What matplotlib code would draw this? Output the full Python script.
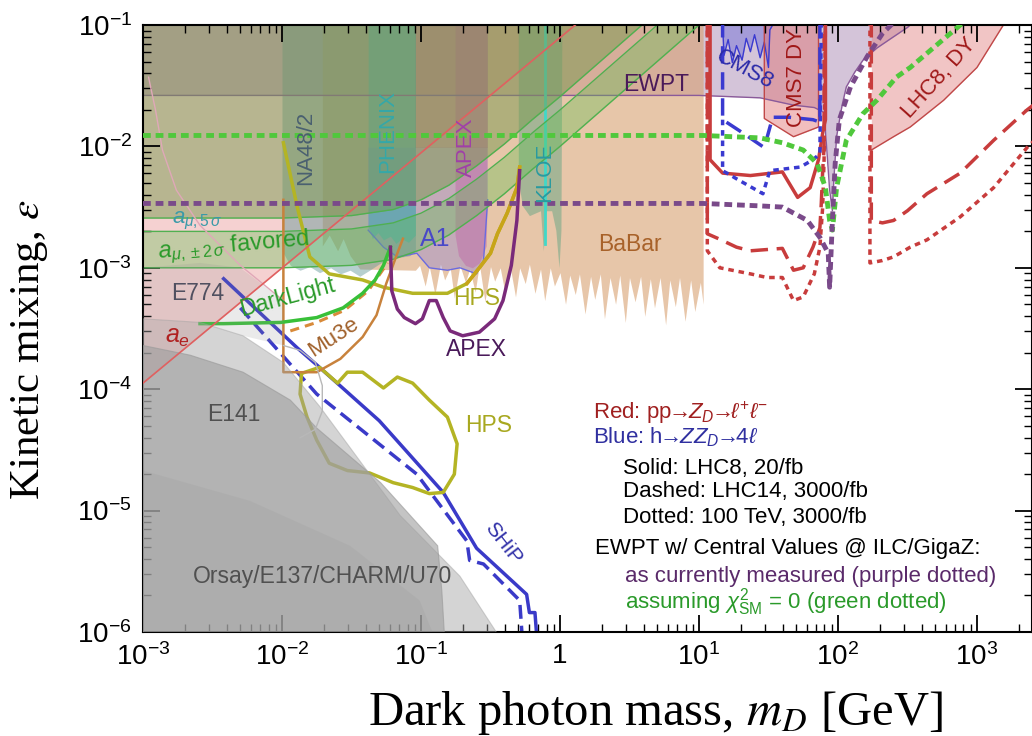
import numpy as np
import matplotlib
matplotlib.use("Agg")
import matplotlib.pyplot as plt
from matplotlib.ticker import FixedLocator, FuncFormatter, LogLocator, NullFormatter

plt.rcParams['font.family'] = ['Liberation Sans', 'DejaVu Sans']
plt.rcParams['mathtext.fontset'] = 'custom'
plt.rcParams['mathtext.rm'] = 'Liberation Sans'
plt.rcParams['mathtext.it'] = 'Liberation Sans:italic'
plt.rcParams['mathtext.bf'] = 'Liberation Sans:bold'
plt.rcParams['mathtext.sf'] = 'Liberation Sans'

# all curves are stored as log10(mass / GeV) and log10(epsilon)

# electron / muon g-2
AE_LM = [-3.0, 0.11]
AE_LE = [-3.95, -1.0]
AMU_LM = [-3.0, -2.0, -1.5, -1.2, -1.0, -0.8, -0.6, -0.4, -0.2, 0.0, 0.2, 0.4, 0.6, 0.8, 1.0]
AMU_LO = [-3.0, -3.0, -2.98, -2.93, -2.85, -2.73, -2.57, -2.39, -2.19, -2.0, -1.80, -1.60, -1.40, -1.20, -1.0]
AMU_HI = [-2.70, -2.70, -2.68, -2.63, -2.55, -2.43, -2.27, -2.09, -1.89, -1.70, -1.50, -1.30, -1.10, -0.90, -0.70]
AMU_5S = [-2.59, -2.59, -2.57, -2.52, -2.44, -2.32, -2.16, -1.98, -1.78, -1.59, -1.39, -1.19, -0.99, -0.79, -0.59]

# electroweak precision (current)
EW_LM = [-3.0, 1.0, 1.44, 1.68, 1.83, 1.90, 1.92, 1.94, 1.96, 1.97, 1.99, 2.03, 2.06, 2.12, 2.18, 2.28, 2.37, 2.50, 2.56]
EW_LE = [-1.58, -1.58, -1.60, -1.66, -1.68, -1.72, -2.03, -2.36, -2.53, -2.28, -1.92, -1.66, -1.51, -1.39, -1.29, -1.19, -1.12, -1.02, -0.96]

# beam dumps
DUMP1_LM = [-3.0, -2.59, -2.28, -1.99, -1.73, -1.15, -0.72, -0.43, -3.0]
DUMP1_LE = [-3.42, -3.45, -3.56, -3.78, -4.14, -5.04, -5.54, -6.05, -6.05]
DUMP2_LM = [-3.0, -2.66, -2.28, -1.94, -1.75, -1.29, -0.88, -0.85, -0.83, -3.0]
DUMP2_LE = [-3.64, -3.72, -3.86, -4.09, -4.32, -4.77, -5.29, -5.66, -6.05, -6.05]
DUMP3_LM = [-3.0, -2.23, -1.51, -1.01, -0.90, -3.0]
DUMP3_LE = [-4.67, -4.92, -5.29, -5.74, -6.05, -6.05]
E141_LM = [-1.99, -1.87, -1.76, -1.71, -1.71, -1.76, -1.87]
E141_LE = [-3.64, -3.68, -3.78, -3.97, -4.18, -4.33, -4.40]
E774_LM = [-3.0, -2.59, -2.30, -1.99, -1.99, -2.28, -2.59, -3.0]
E774_LE = [-3.0, -2.96, -3.0, -3.27, -3.64, -3.56, -3.45, -3.42]
E774C_LM = [-2.96, -2.91, -2.86, -2.76, -2.59, -2.30, -1.99]
E774C_LE = [-1.43, -1.70, -2.03, -2.36, -2.65, -2.98, -3.27]

# fixed target / meson decays / B factory
NA48_LM = [-2.0, -1.94, -1.87, -1.80, -1.73, -1.65, -1.58, -1.51, -1.44, -1.37, -1.29, -1.19, -1.08, -1.04]
NA48_LE = [-2.86, -2.98, -3.02, -2.99, -3.04, -3.00, -3.05, -3.02, -3.07, -3.02, -2.96, -2.92, -2.90, -2.86]
BB_LM = [-1.71, -1.66, -1.60, -1.56, -1.51, -1.44, -1.04,
         -1.01, -0.97, -0.94, -0.90, -0.86, -0.83, -0.79, -0.76, -0.72, -0.68,
         -0.65, -0.61, -0.58, -0.54, -0.50, -0.47, -0.43, -0.40, -0.36, -0.32,
         -0.29, -0.25, -0.22, -0.18, -0.14, -0.11, -0.07, -0.04, 0.00, 0.04,
         0.07, 0.11, 0.14, 0.18, 0.22, 0.25, 0.29, 0.32, 0.36, 0.40,
         0.43, 0.47, 0.50, 0.54, 0.58, 0.61, 0.65, 0.68, 0.72, 0.76,
         0.79, 0.83, 0.86, 0.90, 0.94, 0.97, 1.01, 1.03]
BB_LE = [-2.82, -2.73, -2.86, -2.76, -2.90, -3.01, -3.02,
         -2.98, -3.15, -2.99, -3.22, -2.97, -3.10, -3.00, -3.25, -2.98, -3.12,
         -3.01, -3.20, -2.97, -3.28, -2.99, -3.11, -3.00, -3.18, -2.98, -3.24,
         -3.00, -3.13, -2.97, -3.21, -3.01, -3.27, -3.00, -3.15, -3.04, -3.30,
         -3.06, -3.22, -3.05, -3.38, -3.07, -3.26, -3.05, -3.42, -3.08, -3.30,
         -3.06, -3.45, -3.08, -3.28, -3.07, -3.40, -3.09, -3.33, -3.08, -3.47,
         -3.10, -3.32, -3.08, -3.44, -3.10, -3.36, -3.12, -3.30]
PHX_LM = [-1.38, -1.35, -1.31, -1.27, -1.22, -1.18, -1.14, -1.09, -1.04]
PHX_LE = [-2.65, -2.76, -2.71, -2.77, -2.74, -2.80, -2.76, -2.79, -2.73]
A1_LM = [-1.38, -1.38, -1.27, -1.17, -1.03, -0.94, -0.81, -0.72, -0.60, -0.55, -0.52, -0.52]
A1_LE = [-2.01, -2.69, -2.83, -2.91, -2.88, -3.00, -3.02, -3.00, -3.05, -2.94, -2.44, -2.01]
MAUVE_LM = [-1.04, -0.52]
MAUVE_LE = [-2.01, -2.01]
APEX_LM = [-0.755, -0.755, -0.73, -0.68, -0.63, -0.58, -0.53, -0.525]
APEX_LE = [-2.2, -2.73, -2.90, -2.98, -3.00, -2.96, -2.82, -2.44]
KLOE_LM = [-0.30, -0.27, -0.22, -0.14, -0.12, -0.10, -0.06, -0.03, -0.007, 0.007, 0.014]
KLOE_LE = [-2.28, -2.49, -2.57, -2.53, -2.86, -2.53, -2.53, -2.69, -3.00, -2.69, -1.0]

# future low-mass reach
DL_LM = [-2.59, -2.42, -2.01, -1.75, -1.56, -1.42, -1.33, -1.27, -1.22]
DL_LE = [-3.46, -3.46, -3.45, -3.41, -3.33, -3.21, -3.10, -2.98, -2.83]
DLD_LM = [-1.94, -1.75, -1.55, -1.38, -1.24]
DLD_LE = [-3.52, -3.45, -3.35, -3.19, -2.96]
MU3E_LM = [-1.99, -1.99, -1.75, -1.58, -1.42, -1.32, -1.25, -1.17, -1.13]
MU3E_LE = [-2.44, -3.86, -3.86, -3.75, -3.57, -3.39, -3.13, -2.88, -2.76]
HPS_LM = [-1.99, -1.89, -1.80, -1.66, -1.42, -1.27, -1.06, -0.81, -0.67, -0.58, -0.50, -0.45, -0.38, -0.31, -0.29]
HPS_LE = [-1.97, -2.50, -2.91, -3.05, -3.10, -3.16, -3.21, -3.21, -3.13, -3.00, -2.88, -2.72, -2.55, -2.34, -2.17]
HPS2_LM = [-1.86, -1.73, -1.60, -1.53, -1.42, -1.27, -1.17, -1.06, -0.94, -0.81, -0.74, -0.76, -0.84,
           -0.94, -1.06, -1.20, -1.37, -1.53, -1.66, -1.75, -1.82, -1.87, -1.86]
HPS2_LE = [-3.87, -3.82, -3.95, -3.86, -3.86, -3.99, -3.90, -3.95, -4.09, -4.23, -4.45, -4.70, -4.85,
           -4.86, -4.81, -4.77, -4.69, -4.67, -4.61, -4.42, -4.23, -4.04, -3.87]
APF_LM = [-1.22, -1.21, -1.17, -1.12, -1.04, -0.99, -0.94, -0.89, -0.84, -0.79, -0.70, -0.58, -0.47, -0.41, -0.35, -0.31, -0.29]
APF_LE = [-2.83, -3.19, -3.34, -3.41, -3.46, -3.42, -3.27, -3.27, -3.41, -3.52, -3.56, -3.53, -3.42, -3.27, -2.98, -2.61, -2.20]
SHIP_LM = [-2.42, -1.89, -1.73, -1.30, -0.84, -0.60, -0.24, -0.22, -0.18, -0.165]
SHIP_LE = [-3.09, -3.66, -3.82, -4.26, -4.85, -5.31, -5.69, -5.84, -5.84, -6.07]
SHIPD_LM = [-2.30, -1.75, -1.03, -0.67, -0.65, -0.55, -0.29, -0.27]
SHIPD_LE = [-3.33, -4.04, -4.70, -5.25, -5.41, -5.44, -5.74, -6.07]

# LHC region
CMS8_LM = [1.17, 1.18, 1.21, 1.24, 1.27, 1.31, 1.34, 1.37, 1.40, 1.44, 1.47, 1.50, 1.51, 1.53]
CMS8_LE = [-1.0, -1.25, -1.12, -1.31, -1.17, -1.29, -1.11, -1.22, -1.08, -1.27, -1.14, -1.35, -1.04, -1.0]
CMS7_LM = [1.47, 1.68, 1.86]
CMS7_LE = [-1.77, -1.92, -1.84]
LHC8DY_LM = [2.24, 2.40, 2.52, 2.76, 3.00, 3.19, 3.45]
LHC8DY_LE = [-2.03, -1.92, -1.84, -1.62, -1.35, -1.0, -0.6]
RS_LM = [1.08, 1.08, 1.17, 1.37, 1.60, 1.71, 1.80, 1.86, 1.89, 1.91, 1.91]
RS_LE = [-0.96, -2.11, -2.22, -2.24, -2.21, -2.42, -2.34, -2.11, -1.89, -1.78, -0.96]
RD_LM = [1.06, 1.06, 1.14, 1.27, 1.37, 1.60, 1.68, 1.75, 1.82, 1.87, 1.88, 1.89, 1.90, 1.90]
RD_LE = [-0.96, -2.72, -2.76, -2.83, -2.86, -2.84, -3.02, -3.00, -2.83, -2.67, -2.47, -2.20, -2.01, -0.96]
RD2_LM = [2.24, 2.24, 2.32, 2.40, 2.50, 2.64, 2.88, 3.12, 3.36, 3.45]
RD2_LE = [-0.96, -2.61, -2.63, -2.61, -2.53, -2.39, -2.22, -1.95, -1.70, -1.62]
RT_LM = [1.06, 1.06, 1.15, 1.37, 1.49, 1.60, 1.68, 1.75, 1.83, 1.87, 1.89, 1.90, 1.91]
RT_LE = [-0.96, -2.86, -3.00, -3.05, -3.08, -3.08, -3.27, -3.24, -3.05, -2.83, -2.50, -2.11, -0.96]
RT2_LM = [2.23, 2.23, 2.32, 2.40, 2.52, 2.64, 2.88, 3.12, 3.36, 3.45]
RT2_LE = [-0.96, -2.96, -2.94, -2.91, -2.83, -2.77, -2.58, -2.34, -2.01, -1.91]
BD_LM = [1.17, 1.17, 1.29, 1.47, 1.53, 1.65, 1.82, 1.87, 1.87]
BD_LE = [-0.96, -1.78, -1.87, -2.01, -1.76, -1.76, -1.78, -1.80, -0.96]
BT_LM = [1.17, 1.17, 1.29, 1.46, 1.51, 1.73, 1.82, 1.87, 1.88]
BT_LE = [-1.78, -2.20, -2.28, -2.39, -2.20, -2.17, -2.11, -2.06, -0.96]

# EWPT with ILC/GigaZ central values
GD_LM = [-3.0, 1.03, 1.44, 1.60, 1.75, 1.85, 1.91, 1.94, 1.96, 1.99, 2.06, 2.18, 2.28, 2.42, 2.52, 2.88, 2.99]
GD_LE = [-1.91, -1.91, -1.93, -1.97, -2.03, -2.14, -2.34, -2.61, -2.69, -2.34, -1.95, -1.73, -1.62, -1.43, -1.35, -1.0, -0.92]
PD_LM = [-3.0, 1.03, 1.44, 1.60, 1.78, 1.87, 1.93, 1.94, 1.96, 1.98, 2.01, 2.09, 2.21, 2.32, 2.40]
PD_LE = [-2.47, -2.47, -2.49, -2.50, -2.61, -2.75, -2.88, -3.16, -2.61, -2.14, -1.78, -1.51, -1.26, -1.07, -0.98]


def P(a):
    return 10.0 ** np.asarray(a, dtype=float)


fig = plt.figure(figsize=(10.32, 7.36), dpi=100)
ax = fig.add_axes([143 / 1032, 104 / 736, 889 / 1032, 607 / 736])
ax.set_xscale('log')
ax.set_yscale('log')
ax.set_xlim(1e-3, 10 ** 3.396)
ax.set_ylim(1e-6, 1e-1)

TOP = 1.0

# electron g-2 sits underneath everything
ax.fill_between(P(AE_LM), P(AE_LE), TOP, color='#e07070', alpha=0.32, lw=0, zorder=0.9)

# existing bounds (back layer)
ax.fill_between(P(EW_LM), P(EW_LE), TOP, color='#7a4a8a', alpha=0.32, lw=0, zorder=1)
ax.plot(P(EW_LM), P(EW_LE), color='#8a5a9a', lw=1.0, zorder=1.2)
ax.fill_between(P(BB_LM), P(BB_LE), TOP, color='#d8a070', alpha=0.6, lw=0, zorder=1)
ax.fill_between(P(NA48_LM), P(NA48_LE), TOP, color='#5f9696', alpha=0.45, lw=0, zorder=1)
ax.fill(P(A1_LM), P(A1_LE), facecolor='#8078d8', alpha=0.35, edgecolor='none', zorder=1)
ax.plot(P(A1_LM[1:-1]), P(A1_LE[1:-1]), color='#6a6ae0', lw=1.0, zorder=1.2)
ax.fill_between(P(PHX_LM), P(PHX_LE), TOP, color='#40b0b0', alpha=0.5, lw=0, zorder=1.1)
ax.fill_between(P(MAUVE_LM), P(MAUVE_LE), TOP, color='#a05090', alpha=0.35, lw=0, zorder=1)
ax.fill_between(P(APEX_LM), P(APEX_LE), TOP, color='#c050a0', alpha=0.35, lw=0, zorder=1)
ax.fill_between(P(KLOE_LM), P(KLOE_LE), TOP, color='#70a888', alpha=0.55, lw=0, zorder=1)
ax.plot([10 ** -0.105] * 2, [0.1, 10 ** -2.8], color='#40d8c8', lw=2, zorder=1.2)
ax.fill_between(P(CMS8_LM), P(CMS8_LE), TOP, color='#6a6ad8', alpha=0.45, lw=0, zorder=1)
ax.plot(P(CMS8_LM), P(CMS8_LE), color='#3a3ad0', lw=1.0, zorder=1.2)
ax.fill_between(P(CMS7_LM), P(CMS7_LE), TOP, color='#e07070', alpha=0.45, lw=0, zorder=1)
ax.plot(P([1.47] + CMS7_LM + [1.86]), P([-1.0] + CMS7_LE + [-1.0]), color='#c04848', lw=1.0, zorder=1.2)
ax.fill_between(P(LHC8DY_LM), P(LHC8DY_LE), TOP, color='#e08080', alpha=0.45, lw=0, zorder=1)
ax.plot(P(LHC8DY_LM), P(LHC8DY_LE), color='#c04848', lw=1.0, zorder=1.2)

# muon g-2
ax.fill_between(P(AMU_LM), P(AMU_5S), TOP, color='#7a9a50', alpha=0.5, lw=0, zorder=1.5)
ax.fill_between(P(AMU_LM), P(AMU_LO), P(AMU_HI), color='#60c050', alpha=0.35, lw=0, zorder=1.5)
for arr in (AMU_5S, AMU_HI, AMU_LO):
    ax.plot(P(AMU_LM), P(arr), color='#50b050', lw=1.0, zorder=1.6)

# low-mass projections
ax.plot(P(SHIP_LM), P(SHIP_LE), color='#3a3ac8', lw=2.5, zorder=2)
ax.plot(P(SHIPD_LM), P(SHIPD_LE), color='#3a3ac8', lw=2.5, ls=(0, (4, 2)), zorder=2)
ax.plot(P(HPS2_LM), P(HPS2_LE), color='#b4b424', lw=2.5, zorder=2)
ax.plot(P(HPS_LM), P(HPS_LE), color='#b4b424', lw=2.5, zorder=2)
ax.plot(P(HPS_LM[8:]), P(HPS_LE[8:]), color='#c8a418', lw=2.5, zorder=2.1)
ax.plot(P(APF_LM), P(APF_LE), color='#7a2a7a', lw=2.5, zorder=2.1)
ax.plot(P(MU3E_LM), P(MU3E_LE), color='#c8823c', lw=1.8, zorder=2)
ax.plot(P(DLD_LM), P(DLD_LE), color='#d88a3a', lw=2.2, ls=(0, (3, 2)), zorder=2)
ax.plot(P(DL_LM), P(DL_LE), color='#38c038', lw=2.5, zorder=2)

# beam dumps on top, translucent
ax.fill(P(E774_LM), P(E774_LE), facecolor='#909090', alpha=0.18, edgecolor='none', zorder=3)
ax.plot(P(E774C_LM), P(E774C_LE), color='#e0a8b8', lw=1.0, zorder=3)
ax.fill(P(DUMP1_LM), P(DUMP1_LE), facecolor='#a0a0a0', alpha=0.45, edgecolor='#a0a0a0', lw=0.8, zorder=3)
ax.fill(P(DUMP2_LM), P(DUMP2_LE), facecolor='#a0a0a0', alpha=0.62, edgecolor='#999999', lw=0.8, zorder=3)
ax.fill(P(DUMP3_LM), P(DUMP3_LE), facecolor='#909090', alpha=0.15, edgecolor='none', zorder=3)
ax.plot(P(E141_LM), P(E141_LE), color='#b8b8b8', lw=1.0, zorder=3)
ax.plot(P(AE_LM), P(AE_LE), color='#e06060', lw=1.2, zorder=3.1)

# collider projections
red = '#c83c3c'
blue = '#3a3ad0'
dash = (0, (5, 2.5))
dot = (0, (1.6, 1.4))
ax.plot(P(RS_LM), P(RS_LE), color=red, lw=2.5, zorder=4)
ax.plot(P(RD_LM), P(RD_LE), color=red, lw=2.5, ls=dash, zorder=4)
ax.plot(P(RD2_LM), P(RD2_LE), color=red, lw=2.5, ls=dash, zorder=4)
ax.plot(P(RT_LM), P(RT_LE), color=red, lw=2.5, ls=dot, zorder=4)
ax.plot(P(RT2_LM), P(RT2_LE), color=red, lw=2.5, ls=dot, zorder=4)
ax.plot(P(BD_LM), P(BD_LE), color=blue, lw=2.5, ls=dash, zorder=4)
ax.plot(P(BT_LM), P(BT_LE), color=blue, lw=2.5, ls=dot, zorder=4)
ax.plot(P(GD_LM), P(GD_LE), color='#50c83c', lw=3.5, ls=(0, (1.6, 1.0)), zorder=4)
ax.plot(P(PD_LM), P(PD_LE), color='#7a4a8a', lw=3.5, ls=(0, (1.6, 1.0)), zorder=4)

# region labels
def lab(lm, le, s, c, size=16.5, rot=0, **kw):
    ax.text(10 ** lm, 10 ** le, s, color=c, fontsize=size, rotation=rot,
            ha='center', va='center', zorder=6, rotation_mode='anchor', **kw)

lab(-1.83, -2.01, 'NA48/2', '#4a6070', size=16, rot=90)
lab(-1.24, -1.88, 'PHENIX', '#35a8a8', size=16, rot=90)
lab(-0.67, -2.01, 'APEX', '#a040a8', size=16, rot=90)
lab(-0.11, -2.21, 'KLOE', '#2a9aa0', size=16, rot=90)
lab(-0.90, -2.76, 'A1', '#4848c8', size=18)
lab(0.69, -1.49, 'EWPT', '#4a1a5a')
lab(1.33, -1.37, 'CMS8', '#2a2aa8', size=16, rot=-28)
lab(1.705, -1.43, 'CMS7 DY', '#a01818', size=16, rot=90)
lab(2.73, -1.44, 'LHC8, DY', '#a01818', size=16, rot=48)
lab(0.50, -2.81, 'BaBar', '#a8622a')
lab(-0.60, -3.25, 'HPS', '#a8a820')
lab(-0.60, -3.67, 'APEX', '#4a1a5a')
lab(-0.51, -4.30, 'HPS', '#a8a820')
lab(-1.63, -3.57, 'Mu3e', '#a0602a', size=16, rot=33)
lab(-1.96, -3.24, 'DarkLight', '#2a9a2a', rot=15)
lab(-2.61, -3.21, 'E774', '#505060')
lab(-2.75, -3.57, r'$a_e$', '#b02020', size=18)
lab(-2.61, -2.61, r'$a_{\mu,5\,\sigma}$', '#3a9aa8', size=16)
lab(-2.35, -2.83, r'$a_{\mu,\pm2\,\sigma}$ favored', '#2a9a2a', size=17, rot=5)
lab(-2.35, -4.21, 'E141', '#505050')
lab(-1.71, -5.54, 'Orsay/E137/CHARM/U70', '#505050')
lab(-0.41, -5.27, 'SHiP', '#3030a8', size=15, rot=-52)

# key
def key(x, y, s, c):
    ax.text(x, y, s, color=c, fontsize=16, ha='left', va='center',
            transform=ax.transAxes, zorder=6)

key(0.506, 0.361, r'Red: pp$\!\!\rightarrow\!\!Z_D\!\!\rightarrow\!\!\ell^{+}\ell^{-}$', '#a02020')
key(0.506, 0.321, r'Blue: h$\!\!\rightarrow\!\!ZZ_D\!\!\rightarrow\!\!4\ell$', '#3030a0')
key(0.540, 0.269, 'Solid: LHC8, 20/fb', 'black')
key(0.540, 0.231, 'Dashed: LHC14, 3000/fb', 'black')
key(0.540, 0.189, 'Dotted: 100 TeV, 3000/fb', 'black')
key(0.508, 0.137, 'EWPT w/ Central Values @ ILC/GigaZ:', 'black')
key(0.542, 0.092, 'as currently measured (purple dotted)', '#5a2a6a')
key(0.542, 0.049, r'assuming $\chi^2_{\rm SM}$ = 0 (green dotted)', '#2a9a2a')

# axes styling
for sp in ax.spines.values():
    sp.set_linewidth(1.5)
ax.xaxis.set_major_locator(FixedLocator([1e-3, 1e-2, 1e-1, 1, 10, 100, 1000]))
ax.xaxis.set_minor_locator(LogLocator(base=10, subs=np.arange(2, 10), numticks=20))
ax.yaxis.set_major_locator(FixedLocator([1e-6, 1e-5, 1e-4, 1e-3, 1e-2, 1e-1]))
ax.yaxis.set_minor_locator(LogLocator(base=10, subs=np.arange(2, 10), numticks=20))
ax.xaxis.set_minor_formatter(NullFormatter())
ax.yaxis.set_minor_formatter(NullFormatter())
fmt = FuncFormatter(lambda v, p: '1' if abs(v - 1) < 1e-9 else r'$10^{%d}$' % round(np.log10(v)))
ax.xaxis.set_major_formatter(fmt)
ax.yaxis.set_major_formatter(fmt)
ax.tick_params(which='both', direction='in', top=True, right=True, labelsize=20, zorder=7)
ax.tick_params(which='major', length=12, width=1.3, pad=8)
ax.tick_params(which='minor', length=6, width=1.0)

fig.text(30 / 1032, 1 - 350 / 736, r'Kinetic mixing, $\epsilon$', rotation=90, ha='center', va='center',
         fontsize=31, family='Liberation Serif', math_fontfamily='stix')
fig.text(655 / 1032, 1 - 713 / 736, r'Dark photon mass, $m_D$ [GeV]', ha='center', va='center',
         fontsize=35, family='Liberation Serif', math_fontfamily='stix')

fig.savefig('out.png', dpi=100)
